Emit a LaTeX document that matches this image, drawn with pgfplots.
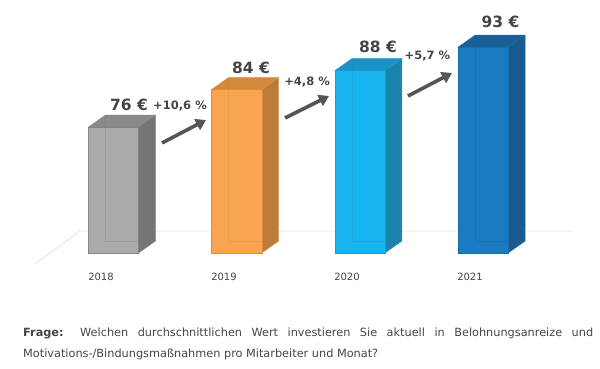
\documentclass[border=0pt]{standalone}
\usepackage{fontspec}
\setmainfont{DejaVu Sans}
\usepackage{pgfplots}
\pgfplotsset{compat=1.18}
\usetikzlibrary{arrows.meta}
\definecolor{gF}{HTML}{AAAAAA}\definecolor{gS}{HTML}{767676}\definecolor{gT}{HTML}{8A8A8A}\definecolor{gE}{HTML}{858585}
\definecolor{oF}{HTML}{F9A54F}\definecolor{oS}{HTML}{BC7B39}\definecolor{oT}{HTML}{D2893C}\definecolor{oE}{HTML}{E08E3E}
\definecolor{lF}{HTML}{17B4EE}\definecolor{lS}{HTML}{1B82AC}\definecolor{lT}{HTML}{1993C6}\definecolor{lE}{HTML}{1A9AD0}
\definecolor{dF}{HTML}{1A7BC3}\definecolor{dS}{HTML}{195A8F}\definecolor{dT}{HTML}{1B5F99}\definecolor{dE}{HTML}{1A6AA8}
\definecolor{floorc}{HTML}{E2E2E2}
\definecolor{txt}{HTML}{444444}
\definecolor{arr}{HTML}{555555}
\begin{document}
\begin{tikzpicture}
\begin{axis}[width=600pt,height=369pt,scale only axis,
  xmin=-0.9213,xmax=3.9489,ymin=24.52,ymax=103.03,
  axis lines=none,clip=false]
% floor
\addplot[draw=floorc, line width=0.8pt] coordinates {(-0.637,46.86) (-0.272,53.88) (3.73,53.88)};
% ---- 2018 (76)
\addplot[fill=gS, draw=gE, line width=0.4pt] coordinates {(0.203,49.2) (0.341,51.75) (0.341,78.55) (0.203,76)} -- cycle;
\addplot[fill=gT, draw=gE, line width=0.4pt] coordinates {(-0.203,76) (-0.065,78.55) (0.341,78.55) (0.203,76)} -- cycle;
\addplot[fill=gF, draw=gE, line width=0.4pt] coordinates {(-0.203,49.2) (-0.203,76) (0.203,76) (0.203,49.2)} -- cycle;
\addplot[draw=gS, opacity=0.25, line width=0.5pt] coordinates {(-0.065,78.55) (-0.065,51.75) (0.341,51.75)};
% ---- 2019 (84)
\addplot[fill=oS, draw=oE, line width=0.4pt] coordinates {(1.203,49.2) (1.341,51.75) (1.341,86.55) (1.203,84)} -- cycle;
\addplot[fill=oT, draw=oE, line width=0.4pt] coordinates {(0.797,84) (0.935,86.55) (1.341,86.55) (1.203,84)} -- cycle;
\addplot[fill=oF, draw=oE, line width=0.4pt] coordinates {(0.797,49.2) (0.797,84) (1.203,84) (1.203,49.2)} -- cycle;
\addplot[draw=oS, opacity=0.2, line width=0.5pt] coordinates {(0.935,86.55) (0.935,51.75) (1.341,51.75)};
% ---- 2020 (88)
\addplot[fill=lS, draw=lE, line width=0.4pt] coordinates {(2.203,49.2) (2.341,51.75) (2.341,90.55) (2.203,88)} -- cycle;
\addplot[fill=lT, draw=lE, line width=0.4pt] coordinates {(1.797,88) (1.935,90.55) (2.341,90.55) (2.203,88)} -- cycle;
\addplot[fill=lF, draw=lE, line width=0.4pt] coordinates {(1.797,49.2) (1.797,88) (2.203,88) (2.203,49.2)} -- cycle;
\addplot[draw=lS, opacity=0.25, line width=0.5pt] coordinates {(1.935,90.55) (1.935,51.75) (2.341,51.75)};
% ---- 2021 (93)
\addplot[fill=dS, draw=dE, line width=0.4pt] coordinates {(3.203,49.2) (3.341,51.75) (3.341,95.55) (3.203,93)} -- cycle;
\addplot[fill=dT, draw=dE, line width=0.4pt] coordinates {(2.797,93) (2.935,95.55) (3.341,95.55) (3.203,93)} -- cycle;
\addplot[fill=dF, draw=dE, line width=0.4pt] coordinates {(2.797,49.2) (2.797,93) (3.203,93) (3.203,49.2)} -- cycle;
\addplot[draw=dS, opacity=0.3, line width=0.5pt] coordinates {(2.935,95.55) (2.935,51.75) (3.341,51.75)};
% arrows
\draw[arr, line width=3.6pt, -{Triangle[length=10pt,width=12pt]}] (rel axis cs:0.270,0.6125) -- (rel axis cs:0.3433,0.6748);
\draw[arr, line width=3.6pt, -{Triangle[length=10pt,width=12pt]}] (rel axis cs:0.475,0.6802) -- (rel axis cs:0.5483,0.7398);
\draw[arr, line width=3.6pt, -{Triangle[length=10pt,width=12pt]}] (rel axis cs:0.680,0.7398) -- (rel axis cs:0.7533,0.8022);
% value labels
\node[txt, font=\fontsize{15.5}{18}\selectfont\bfseries] at (rel axis cs:0.215,0.7154) {76 €};
\node[txt, font=\fontsize{15.5}{18}\selectfont\bfseries] at (rel axis cs:0.4183,0.8157) {84 €};
\node[txt, font=\fontsize{15.5}{18}\selectfont\bfseries] at (rel axis cs:0.630,0.874) {88 €};
\node[txt, font=\fontsize{15.5}{18}\selectfont\bfseries] at (rel axis cs:0.8342,0.9417) {93 €};
\node[txt, font=\fontsize{11.5}{14}\selectfont\bfseries] at (rel axis cs:0.300,0.7127) {+10,6 \%};
\node[txt, font=\fontsize{11.5}{14}\selectfont\bfseries] at (rel axis cs:0.5117,0.7764) {+4,8 \%};
\node[txt, font=\fontsize{11.5}{14}\selectfont\bfseries] at (rel axis cs:0.7125,0.8469) {+5,7 \%};
% year labels
\node[txt, font=\fontsize{10}{12}\selectfont] at (rel axis cs:0.1683,0.2507) {2018};
\node[txt, font=\fontsize{10}{12}\selectfont] at (rel axis cs:0.3733,0.2507) {2019};
\node[txt, font=\fontsize{10}{12}\selectfont] at (rel axis cs:0.5783,0.2507) {2020};
\node[txt, font=\fontsize{10}{12}\selectfont] at (rel axis cs:0.7833,0.2507) {2021};
% question
\node[txt, anchor=base west, inner sep=0pt, font=\fontsize{11.3}{14}\selectfont] at (rel axis cs:0.0383,0.0894)
  {\makebox[570pt][s]{\textbf{Frage:} Welchen durchschnittlichen Wert investieren Sie aktuell in Belohnungsanreize und}};
\node[txt, anchor=base west, inner sep=0pt, font=\fontsize{11.3}{14}\selectfont] at (rel axis cs:0.0383,0.0312)
  {Motivations-/Bindungsmaßnahmen pro Mitarbeiter und Monat?};
\end{axis}
\pgfresetboundingbox
\path[use as bounding box] (current axis.south west) rectangle (current axis.north east);
\end{tikzpicture}
\end{document}
